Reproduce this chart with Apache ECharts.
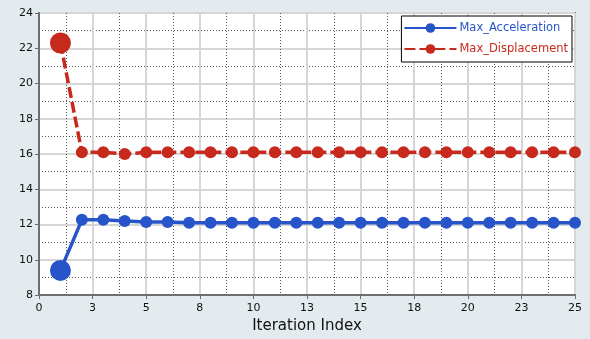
<!DOCTYPE html>
<html>
<head>
<meta charset="utf-8">
<script src="https://cdn.jsdelivr.net/npm/echarts@6/dist/echarts.min.js"></script>
<style>
html,body{margin:0;padding:0;background:#e3ebef;}
#chart{width:590px;height:339px;}
</style>
</head>
<body>
<div id="chart"></div>
<script>
// Iteration history of the two responses
const iterations = [1,2,3,4,5,6,7,8,9,10,11,12,13,14,15,16,17,18,19,20,21,22,23,24,25];
const maxAcceleration = [9.4,12.27,12.27,12.2,12.15,12.15,12.1,12.1,12.1,12.1,12.1,12.1,12.1,12.1,12.1,12.1,12.1,12.1,12.1,12.1,12.1,12.1,12.1,12.1,12.1];
const maxDisplacement = [22.3,16.1,16.1,16.0,16.1,16.1,16.1,16.1,16.1,16.1,16.1,16.1,16.1,16.1,16.1,16.1,16.1,16.1,16.1,16.1,16.1,16.1,16.1,16.1,16.1];
const seriesNames = ['Max_Acceleration','Max_Displacement'];
const xTitle = 'Iteration Index';

const blue = '#2755c9';
const red = '#c8291d';
const font = 'DejaVu Sans';

// first iteration is drawn with an enlarged marker
function pts(vals){
  return vals.map((v,i)=>({value:[iterations[i], v], symbolSize: i===0 ? 21 : 12}));
}

const chart = echarts.init(document.getElementById('chart'), null, {renderer:'canvas'});
const axisCommon = {
  axisLine:{show:true, onZero:false, lineStyle:{color:'#6b6f72', width:2}},
  axisTick:{show:true, length:4, lineStyle:{color:'#6b6f72', width:1}},
  axisLabel:{color:'#111', fontFamily:font, fontSize:11},
  splitLine:{show:true, lineStyle:{color:'#d6d6d6', width:2}},
  minorTick:{show:false, splitNumber:2},
  minorSplitLine:{show:true, lineStyle:{color:'#555', width:1, type:[1,2]}}
};
chart.setOption({
  backgroundColor:'#e3ebef',
  animation:false,
  grid:{left:39, right:15, top:13, bottom:43, show:true, backgroundColor:'#ffffff', borderColor:'#6b6f72', borderWidth:2},
  legend:{
    right:18, top:16, orient:'vertical',
    backgroundColor:'#ffffff', borderColor:'#000', borderWidth:1, borderRadius:0,
    padding:[6,4,7,2], itemGap:9, itemWidth:52, itemHeight:12,
    data:[
      {name:seriesNames[0], textStyle:{color:blue}},
      {name:seriesNames[1], textStyle:{color:red}}
    ],
    textStyle:{fontFamily:font, fontSize:11.5, padding:[0,0,0,-2]}
  },
  xAxis:Object.assign({}, axisCommon, {
    type:'value', min:0, max:25, interval:2.5,
    name:xTitle, nameLocation:'middle', nameGap:23,
    nameTextStyle:{color:'#111', fontFamily:font, fontSize:15},
    axisLabel:Object.assign({}, axisCommon.axisLabel, {margin:8, formatter:v=>String(Math.round(v))})
  }),
  yAxis:Object.assign({}, axisCommon, {
    type:'value', min:8, max:24, interval:2,
    axisLabel:Object.assign({}, axisCommon.axisLabel, {margin:6})
  }),
  series:[
    {
      name:seriesNames[0], type:'line', data:pts(maxAcceleration),
      symbol:'circle', color:blue,
      lineStyle:{color:blue, width:3.5},
      itemStyle:{color:blue}
    },
    {
      name:seriesNames[1], type:'line', data:pts(maxDisplacement),
      symbol:'circle', color:red,
      lineStyle:{color:red, width:3.5, type:[11,4]},
      itemStyle:{color:red}
    }
  ]
});
</script>
</body>
</html>
